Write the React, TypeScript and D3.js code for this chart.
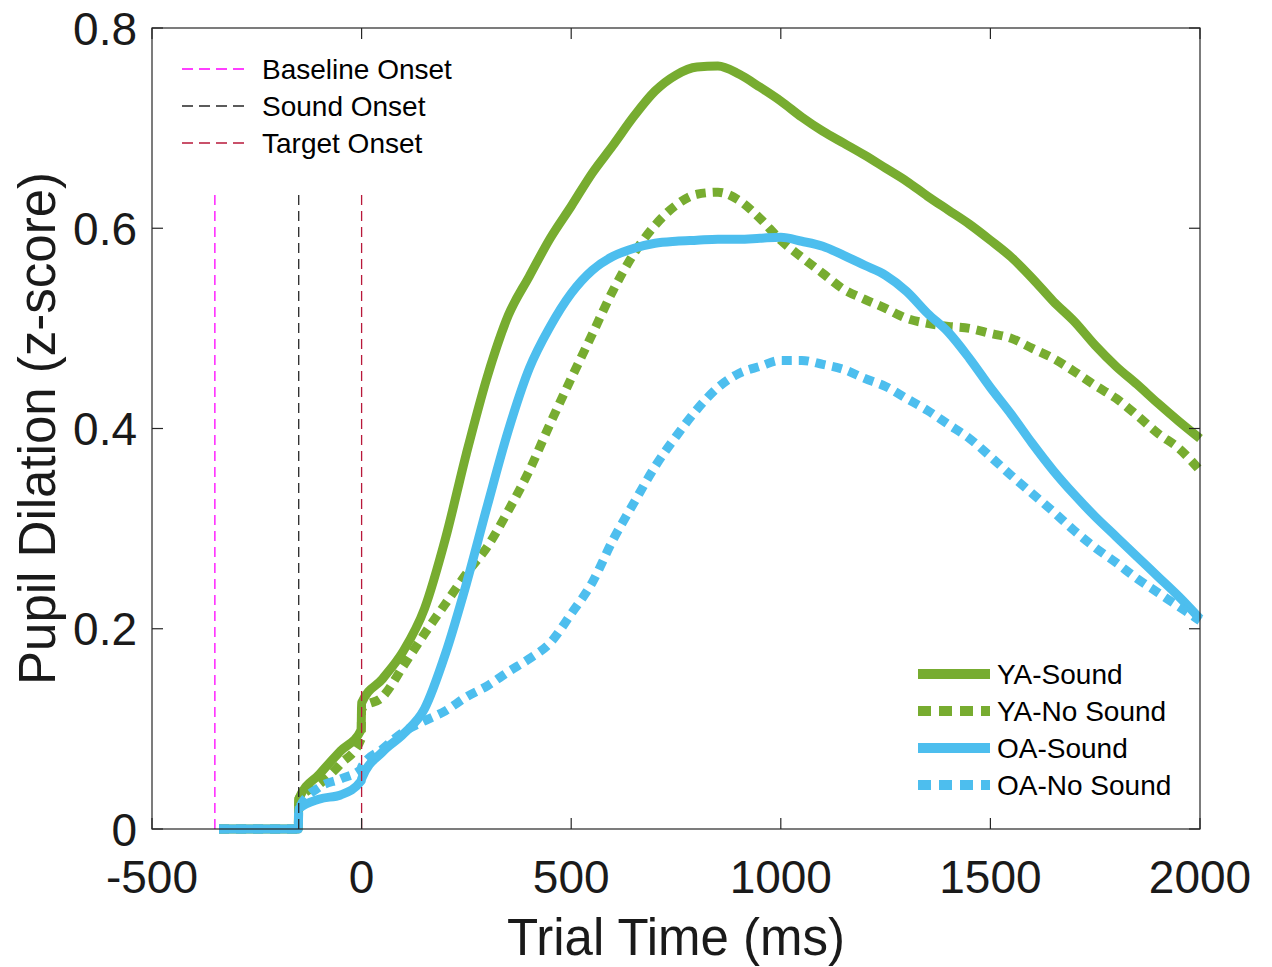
import React from "react";
import * as d3 from "d3";

const TIMES = [-340, -151, -150, -100, -50, -1, 0,
  50, 100, 150, 200, 250, 300, 350, 400, 450, 500,
  550, 600, 650, 700, 750, 800, 850, 900, 950, 1000,
  1050, 1100, 1150, 1200, 1250, 1300, 1350, 1400, 1450, 1500,
  1550, 1600, 1650, 1700, 1750, 1800, 1850, 1900, 1950, 2000];

const YA_SOUND = [0, 0, 0.03, 0.055, 0.078, 0.099, 0.126,
  0.15, 0.178, 0.22, 0.29, 0.375, 0.452, 0.513, 0.552, 0.59, 0.622,
  0.655, 0.683, 0.712, 0.737, 0.753, 0.761, 0.762, 0.754, 0.741, 0.727,
  0.711, 0.697, 0.685, 0.673, 0.66, 0.647, 0.632, 0.618, 0.604, 0.588,
  0.571, 0.55, 0.527, 0.507, 0.483, 0.462, 0.444, 0.425, 0.407, 0.39];

const YA_NOSOUND = [0, 0, 0.03, 0.045, 0.065, 0.09, 0.12,
  0.132, 0.163, 0.195, 0.225, 0.255, 0.282, 0.318, 0.358, 0.405, 0.45,
  0.494, 0.538, 0.575, 0.603, 0.623, 0.634, 0.636, 0.628, 0.61, 0.588,
  0.571, 0.555, 0.539, 0.529, 0.52, 0.51, 0.505, 0.502, 0.5, 0.495,
  0.49, 0.48, 0.47, 0.457, 0.443, 0.43, 0.413, 0.395, 0.38, 0.358];

const OA_SOUND = [0, 0, 0.02, 0.03, 0.034, 0.048, 0.05,
  0.077, 0.095, 0.12, 0.175, 0.245, 0.323, 0.398, 0.46, 0.502, 0.535,
  0.558, 0.572, 0.58, 0.585, 0.587, 0.588, 0.589, 0.589, 0.59, 0.591,
  0.587, 0.582, 0.573, 0.563, 0.553, 0.537, 0.515, 0.496, 0.47, 0.441,
  0.414, 0.385, 0.358, 0.334, 0.312, 0.292, 0.272, 0.252, 0.232, 0.21];

const OA_NOSOUND = [0, 0, 0.02, 0.042, 0.05, 0.06, 0.062,
  0.08, 0.097, 0.108, 0.118, 0.132, 0.143, 0.157, 0.17, 0.186, 0.215,
  0.246, 0.289, 0.326, 0.362, 0.392, 0.419, 0.441, 0.455, 0.462, 0.468,
  0.468, 0.464, 0.459, 0.45, 0.442, 0.43, 0.418, 0.404, 0.39, 0.372,
  0.353, 0.335, 0.317, 0.298, 0.281, 0.266, 0.25, 0.236, 0.222, 0.208];

const SERIES_NAMES = ["YA-Sound", "YA-No Sound", "OA-Sound", "OA-No Sound"];
const SERIES_VALUES = [YA_SOUND, YA_NOSOUND, OA_SOUND, OA_NOSOUND];
const SERIES_COLORS = ["#77AC30", "#77AC30", "#4DBEEE", "#4DBEEE"];
const SERIES_DOTTED = [false, true, false, true];

const ONSET_NAMES = ["Baseline Onset", "Sound Onset", "Target Onset"];
const ONSET_TIMES = [-350, -150, 0];
const ONSET_COLORS = ["#FF00FF", "#262626", "#B8183A"];
const ONSET_TOP = 0.635;

const X_TICKS = [-500, 0, 500, 1000, 1500, 2000];
const Y_TICKS = [0, 0.2, 0.4, 0.6, 0.8];

const FONT = "'Liberation Sans', Arial, Helvetica, sans-serif";

export default function App() {
  const left = 152, right = 1200, top = 28, bottom = 829;
  const x = d3.scaleLinear().domain([-500, 2000]).range([left, right]);
  const y = d3.scaleLinear().domain([0, 0.8]).range([bottom, top]);
  const line = d3.line<[number, number]>()
    .x((d) => x(d[0]))
    .y((d) => y(d[1]))
    .curve(d3.curveMonotoneX);

  const tickLen = 11;
  const axisColor = "#262626";

  return (
    <svg width={1272} height={967} style={{ position: "absolute", left: 0, top: 0, background: "#fff" }}
      fontFamily={FONT}>
      <rect x={0} y={0} width={1272} height={967} fill="#fff" />
      {SERIES_VALUES.map((vals, i) => {
        const pts = TIMES.map((t, j) => [t, vals[j]] as [number, number]);
        return (
          <path key={i} d={line(pts) || ""} fill="none" stroke={SERIES_COLORS[i]}
            strokeWidth={9} strokeLinejoin="round"
            strokeDasharray={SERIES_DOTTED[i] ? "10 7" : undefined} />
        );
      })}
      {ONSET_TIMES.map((t, i) => (
        <line key={i} x1={x(t)} x2={x(t)} y1={y(0)} y2={y(ONSET_TOP)}
          stroke={ONSET_COLORS[i]} strokeWidth={1.3} strokeDasharray="10 6" />
      ))}
      <rect x={left} y={top} width={right - left} height={bottom - top} fill="none"
        stroke={axisColor} strokeWidth={1.2} />
      {X_TICKS.map((t) => (
        <g key={t}>
          <line x1={x(t)} x2={x(t)} y1={bottom} y2={bottom - tickLen} stroke={axisColor} strokeWidth={1.2} />
          <line x1={x(t)} x2={x(t)} y1={top} y2={top + tickLen} stroke={axisColor} strokeWidth={1.2} />
          <text x={x(t)} y={bottom + 64} textAnchor="middle" fontSize={46} fill="#1a1a1a">{t}</text>
        </g>
      ))}
      {Y_TICKS.map((v) => (
        <g key={v}>
          <line x1={left} x2={left + tickLen} y1={y(v)} y2={y(v)} stroke={axisColor} strokeWidth={1.2} />
          <line x1={right} x2={right - tickLen} y1={y(v)} y2={y(v)} stroke={axisColor} strokeWidth={1.2} />
          <text x={137} y={y(v) + 16.5} textAnchor="end" fontSize={46} fill="#1a1a1a">{v === 0 ? "0" : v.toFixed(1)}</text>
        </g>
      ))}
      <text x={(left + right) / 2} y={955} textAnchor="middle" fontSize={51} fill="#1a1a1a">Trial Time (ms)</text>
      <text transform={`translate(55, ${(top + bottom) / 2}) rotate(-90)`} textAnchor="middle" fontSize={51} fill="#1a1a1a">Pupil Dilation (z-score)</text>
      {ONSET_NAMES.map((n, i) => (
        <g key={n}>
          <line x1={182} x2={248} y1={69 + i * 37} y2={69 + i * 37} stroke={ONSET_COLORS[i]}
            strokeWidth={1.3} strokeDasharray="11 6" />
          <text x={262} y={69 + i * 37 + 10} fontSize={28} fill="#000">{n}</text>
        </g>
      ))}
      {SERIES_NAMES.map((n, i) => (
        <g key={n}>
          <line x1={918} x2={990} y1={674 + i * 37} y2={674 + i * 37} stroke={SERIES_COLORS[i]}
            strokeWidth={10} strokeDasharray={SERIES_DOTTED[i] ? "13 8" : undefined} />
          <text x={997} y={674 + i * 37 + 10} fontSize={28} fill="#000">{n}</text>
        </g>
      ))}
    </svg>
  );
}
